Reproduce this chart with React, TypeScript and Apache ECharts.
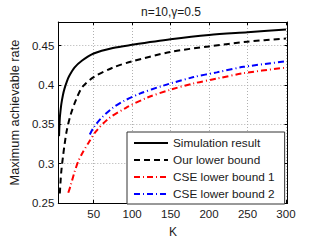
import React, { useEffect, useRef } from "react";
import * as echarts from "echarts";

const titleText = "n=10,γ=0.5";
const xName = "K";
const yName = "Maximum achievable rate";
const xTicks = [50, 100, 150, 200, 250, 300];
const yTicks = [0.25, 0.3, 0.35, 0.4, 0.45];

const simK = [5, 6, 7, 8, 10, 12, 15, 18, 25, 35, 50, 75, 100, 150, 200, 250, 300];
const simV = [0.335, 0.358, 0.368, 0.376, 0.387, 0.395, 0.404, 0.411, 0.422, 0.431, 0.44, 0.447, 0.451, 0.458, 0.4635, 0.467, 0.4705];

const ourK = [6, 7, 8, 10, 12, 15, 20, 27, 35, 50, 75, 100, 150, 200, 250, 300];
const ourV = [0.262, 0.278, 0.291, 0.308, 0.323, 0.342, 0.362, 0.381, 0.397, 0.41, 0.422, 0.43, 0.442, 0.449, 0.455, 0.459];

const cse1K = [17, 20, 25, 30, 35, 43, 53, 69, 92, 120, 150, 180, 210, 245, 300];
const cse1V = [0.263, 0.272, 0.289, 0.303, 0.313, 0.326, 0.341, 0.357, 0.371, 0.384, 0.394, 0.402, 0.408, 0.415, 0.422];

const cse2K = [45, 50, 60, 75, 90, 110, 140, 180, 210, 245, 300];
const cse2V = [0.337, 0.346, 0.358, 0.371, 0.38, 0.389, 0.399, 0.41, 0.416, 0.423, 0.43];

const seriesNames = ["Simulation result", "Our lower bound", "CSE lower bound 1", "CSE lower bound 2"];

const zip = (k: number[], v: number[]) => k.map((x, i) => [x, v[i]]);

const FONT = "Liberation Sans";

export default function App() {
  const ref = useRef<HTMLDivElement>(null);
  useEffect(() => {
    if (!ref.current) return;
    const chart = echarts.init(ref.current, null, { renderer: "svg" });
    const axisLine = { show: true, lineStyle: { color: "#000", width: 1 } };
    const tickStyle = { show: true, inside: true, length: 3, lineStyle: { color: "#000", width: 1 } };
    const splitLine = { show: true, lineStyle: { color: "#b0b0b0", type: [1, 2], width: 1 } };
    const labelStyle = { color: "#1a1a1a", fontFamily: FONT, fontSize: 11.5 };
    chart.setOption({
      animation: false,
      title: {
        text: titleText,
        left: 166,
        top: 1,
        textAlign: "center",
        textStyle: { color: "#1a1a1a", fontFamily: FONT, fontSize: 12, fontWeight: "normal" },
      },
      grid: { left: 43.5, right: 31.5, top: 22, bottom: 31, containLabel: false },
      xAxis: [
        {
          type: "value",
          min: 4,
          max: 302,
          name: xName,
          nameLocation: "middle",
          nameGap: 23,
          nameTextStyle: { ...labelStyle, fontSize: 12 },
          axisLine,
          axisTick: { ...tickStyle, customValues: xTicks },
          axisLabel: { ...labelStyle, margin: 5, customValues: xTicks },
          splitLine,
        },
        {
          type: "value",
          position: "top",
          min: 4,
          max: 302,
          axisLine,
          axisTick: { ...tickStyle, customValues: xTicks },
          axisLabel: { show: false },
          splitLine: { show: false },
        },
      ],
      yAxis: [
        {
          type: "value",
          min: 0.25,
          max: 0.48,
          name: yName,
          nameLocation: "middle",
          nameGap: 35,
          nameTextStyle: { ...labelStyle, fontSize: 12.8 },
          axisLine,
          axisTick: { ...tickStyle, customValues: yTicks },
          axisLabel: { ...labelStyle, margin: 4, customValues: yTicks, formatter: (v: number) => String(+v.toFixed(2)) },
          splitLine,
        },
        {
          type: "value",
          position: "right",
          min: 0.25,
          max: 0.48,
          axisLine,
          axisTick: { ...tickStyle, customValues: yTicks },
          axisLabel: { show: false },
          splitLine: { show: false },
        },
      ],
      legend: {
        orient: "vertical",
        left: 127,
        top: 132,
        data: seriesNames,
        backgroundColor: "#fff",
        borderColor: "#333",
        borderWidth: 1,
        borderRadius: 0,
        padding: [5, 10, 4, 6],
        itemGap: 5,
        itemWidth: 34,
        itemHeight: 12,
        itemStyle: { opacity: 0 },
        textStyle: { color: "#1a1a1a", fontFamily: FONT, fontSize: 11.8 },
      },
      series: [
        {
          name: seriesNames[0],
          type: "line",
          data: zip(simK, simV),
          symbol: "none",
          smooth: 0.3,
          lineStyle: { color: "#000", width: 2, type: "solid" },
          itemStyle: { color: "#000" },
          z: 5,
        },
        {
          name: seriesNames[1],
          type: "line",
          data: zip(ourK, ourV),
          symbol: "none",
          smooth: 0.3,
          lineStyle: { color: "#000", width: 2, type: [6, 4] },
          itemStyle: { color: "#000" },
          z: 4,
        },
        {
          name: seriesNames[2],
          type: "line",
          data: zip(cse1K, cse1V),
          symbol: "none",
          smooth: 0.3,
          lineStyle: { color: "#ff0000", width: 2, type: [6, 3, 1, 3] },
          itemStyle: { color: "#ff0000" },
          z: 3,
        },
        {
          name: seriesNames[3],
          type: "line",
          data: zip(cse2K, cse2V),
          symbol: "none",
          smooth: 0.3,
          lineStyle: { color: "#0000ff", width: 2, type: [6, 3, 1, 3] },
          itemStyle: { color: "#0000ff" },
          z: 3,
        },
      ],
    });
    return () => chart.dispose();
  }, []);
  return <div ref={ref} style={{ width: 319, height: 243, position: "absolute", left: 0, top: 0, background: "#fff" }} />;
}
